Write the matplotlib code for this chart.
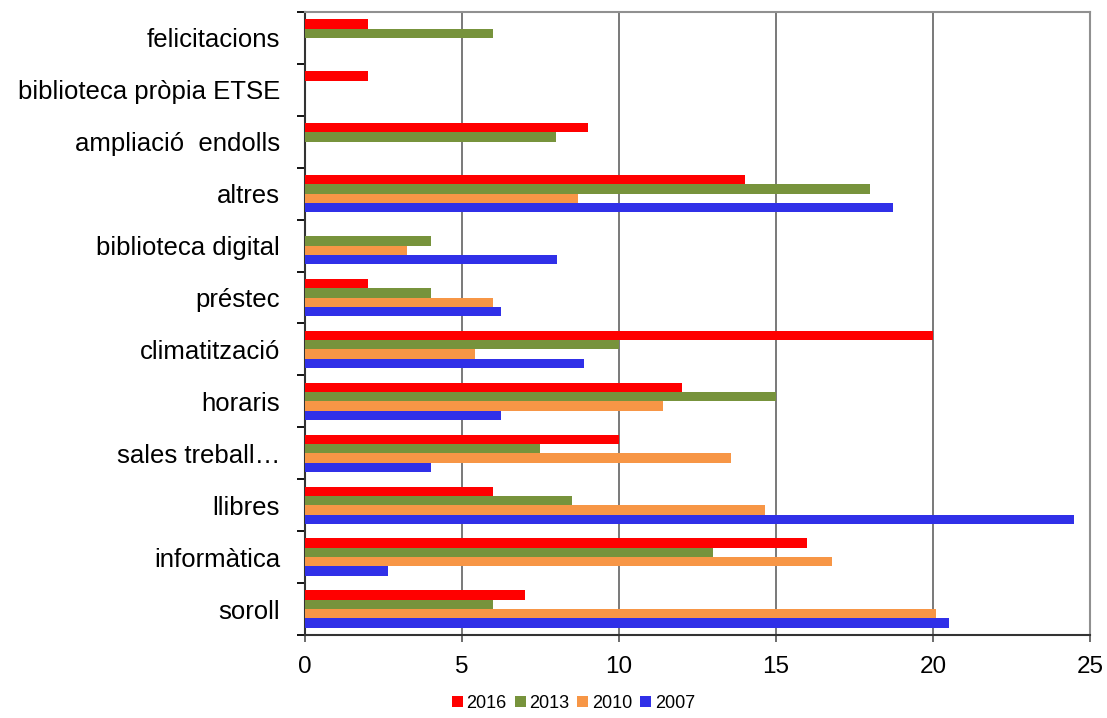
import numpy as np
import matplotlib.pyplot as plt
from matplotlib.ticker import FixedLocator

plt.rcParams['font.family'] = ['Liberation Sans', 'DejaVu Sans']

categories = ['soroll', 'informàtica', 'llibres', 'sales treball…', 'horaris',
              'climatització', 'préstec', 'biblioteca digital', 'altres',
              'ampliació  endolls', 'biblioteca pròpia ETSE', 'felicitacions']
years = ['2016', '2013', '2010', '2007']
v2016 = [7, 16, 6, 10, 12, 20, 2, 0, 14, 9, 2, 2]
v2013 = [6, 13, 8.5, 7.5, 15, 10, 4, 4, 18, 8, 0, 6]
v2010 = [20.1, 16.8, 14.65, 13.57, 11.4, 5.4, 6, 3.25, 8.7, 0, 0, 0]
v2007 = [20.5, 2.65, 24.5, 4.0, 6.25, 8.9, 6.25, 8.03, 18.73, 0, 0, 0]
colors = ['#FF0000', '#77933C', '#F79646', '#3030E8']

fig = plt.figure(figsize=(11.07, 7.18), dpi=100)
ax = fig.add_axes([0.2755, 0.1156, 0.7091, 0.8677])

y = np.arange(len(categories))
h = 0.18
series = [v2016, v2013, v2010, v2007]
offsets = [1.5 * h, 0.5 * h, -0.5 * h, -1.5 * h]
for vals, off, col, lab in zip(series, offsets, colors, years):
    ax.barh(y + off, vals, height=h, color=col, label=lab, zorder=3)

ax.set_xlim(0, 25)
ax.set_ylim(-0.5, len(categories) - 0.5)
ax.set_xticks([0, 5, 10, 15, 20, 25])
ax.set_yticks(y)
ax.set_yticklabels(categories, fontsize=18.5)
ax.yaxis.set_minor_locator(FixedLocator(np.arange(-0.5, len(categories), 1)))
ax.tick_params(axis='y', which='major', length=0, pad=18)
ax.tick_params(axis='y', which='minor', length=6, width=1.3, color='black')
ax.tick_params(axis='x', labelsize=17.5, length=5, width=1.3, pad=10, color='#606060')
ax.grid(axis='x', color='#6e6e6e', linewidth=1.3, zorder=0)

for s in ['top', 'right']:
    ax.spines[s].set_color('#909090')
    ax.spines[s].set_linewidth(1.5)
for s in ['left', 'bottom']:
    ax.spines[s].set_color('#333333')
    ax.spines[s].set_linewidth(1.5)

fig.legend(loc='lower center', bbox_to_anchor=(0.518, -0.014), ncol=4, frameon=False,
           fontsize=13, handlelength=0.6, handleheight=0.6, handletextpad=0.2,
           columnspacing=0.45)

plt.savefig('out.png', dpi=100)
